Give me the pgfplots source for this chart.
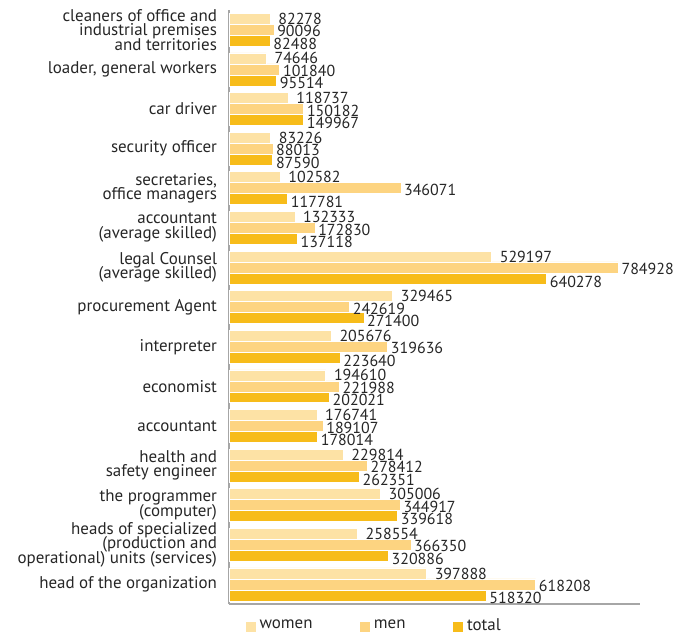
\documentclass[border=0pt]{standalone}
\usepackage{pgfplots}
\pgfplotsset{compat=1.18}
\usepackage{fontspec}
\setmainfont{PT Sans}
\definecolor{cwomen}{HTML}{FDE2A5}
\definecolor{cmen}{HTML}{FDD481}
\definecolor{ctotal}{HTML}{F7BC1A}
\definecolor{axgray}{HTML}{A6A6A6}
\definecolor{txt}{HTML}{262626}
\newcommand\tightfont{\fontsize{8.5}{7.3}\selectfont\lineskiplimit=-10pt\relax\lineskip=0pt\relax}
\begin{document}
\begin{tikzpicture}
\begin{axis}[
  name=ax,
  width=206pt, height=298pt, scale only axis,
  xbar=0pt,
  bar width=5.5pt,
  xmin=0, xmax=829000,
  ymin=-0.5, ymax=14.5,
  axis x line=bottom, axis y line=left,
  axis line style={draw=axgray, line width=1pt, -},
  xtick=\empty,
  ytick={0,...,14},
  major tick length=0pt,
  yticklabels={
    {head of the organization},
    {heads of specialized\\(production and\\operational) units (services)},
    {the programmer\\(computer)},
    {health and\\safety engineer},
    {accountant},
    {economist},
    {interpreter},
    {procurement Agent},
    {legal Counsel\\(average skilled)},
    {accountant\\(average skilled)},
    {secretaries,\\office managers},
    {security officer},
    {car driver},
    {loader, general workers},
    {cleaners of office and\\industrial premises\\and territories}},
  yticklabel style={align=right, font=\tightfont, text=txt, inner sep=0pt, xshift=-6pt},
  point meta=explicit symbolic,
  nodes near coords,
  every node near coord/.append style={font=\fontsize{8}{8}\selectfont, text=txt, anchor=west, inner sep=0pt},
  legend style={draw=none, fill=none, legend columns=3, at={(axis description cs:0.025,-0.036)}, anchor=west,
    font=\fontsize{8.5}{9}\selectfont, text=txt,
    /tikz/every even column/.append style={column sep=22pt}},
  legend cell align=left,
  reverse legend,
  clip=false,
]
\addplot[fill=ctotal, draw=white, line width=0.3pt,
  every node near coord/.append style={xshift=1.5pt, yshift=-1.5pt},
  legend image code/.code={\fill[ctotal] (0pt,-3pt) rectangle (4.5pt,1.5pt);}]
 coordinates {
 (518320,0) [518320] (320886,1) [320886] (339618,2) [339618] (262351,3) [262351]
 (178014,4) [178014] (202021,5) [202021] (223640,6) [223640] (271400,7) [271400]
 (640278,8) [640278] (137118,9) [137118] (117781,10) [117781] (87590,11) [87590]
 (149967,12) [149967] (95514,13) [95514] (82488,14) [82488]};
\addplot[fill=cmen, draw=white, line width=0.3pt,
  every node near coord/.append style={xshift=1.5pt, yshift=-0.8pt},
  legend image code/.code={\fill[cmen] (0pt,-3pt) rectangle (4.5pt,1.5pt);}]
 coordinates {
 (618208,0) [618208] (366350,1) [366350] (344917,2) [344917] (278412,3) [278412]
 (189107,4) [189107] (221988,5) [221988] (319636,6) [319636] (242619,7) [242619]
 (784928,8) [784928] (172830,9) [172830] (346071,10) [346071] (88013,11) [88013]
 (150182,12) [150182] (101840,13) [101840] (90096,14) [90096]};
\addplot[fill=cwomen, draw=white, line width=0.3pt,
  every node near coord/.append style={xshift=4pt},
  legend image code/.code={\fill[cwomen] (0pt,-3pt) rectangle (4.5pt,1.5pt);}]
 coordinates {
 (397888,0) [397888] (258554,1) [258554] (305006,2) [305006] (229814,3) [229814]
 (176741,4) [176741] (194610,5) [194610] (205676,6) [205676] (329465,7) [329465]
 (529197,8) [529197] (132333,9) [132333] (102582,10) [102582] (83226,11) [83226]
 (118737,12) [118737] (74646,13) [74646] (82278,14) [82278]};
\legend{total, men, women}
\coordinate (bl) at (rel axis cs:0,0);
\coordinate (tr) at (rel axis cs:1,1);
\end{axis}
\pgfresetboundingbox
\path[use as bounding box] ([shift={(-115pt,-14.5pt)}]bl) rectangle ([shift={(17pt,5pt)}]tr);
\end{tikzpicture}
\end{document}
